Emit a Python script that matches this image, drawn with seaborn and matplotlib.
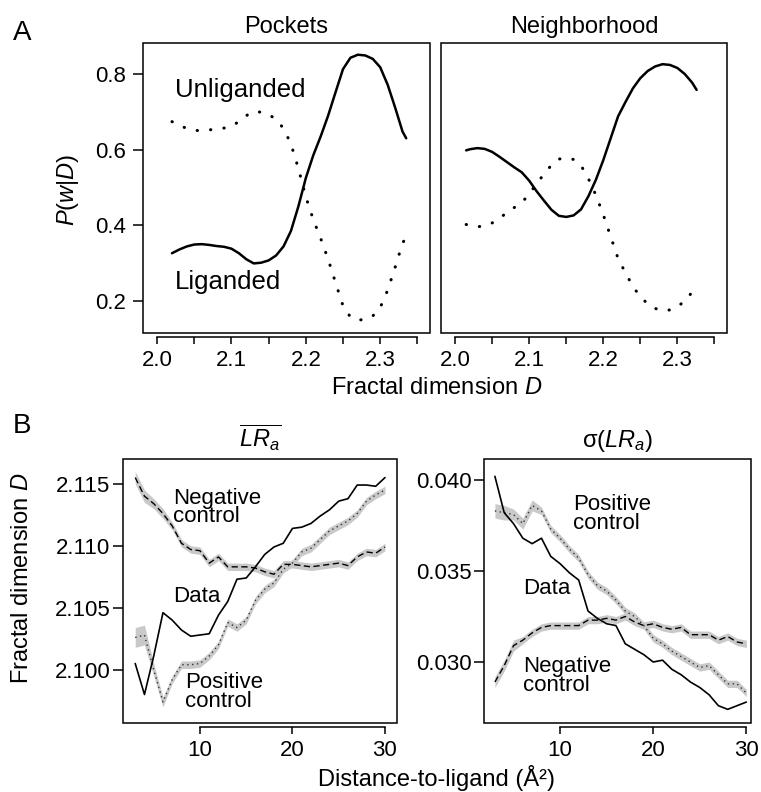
import numpy as np
import matplotlib
matplotlib.use("Agg")
import matplotlib.pyplot as plt
from matplotlib.patches import Rectangle
import seaborn as sns

sns.set_style("white")
plt.rcParams['font.family'] = ['Liberation Sans', 'DejaVu Sans']
plt.rcParams['mathtext.fontset'] = 'custom'
plt.rcParams['mathtext.rm'] = 'Liberation Sans'
plt.rcParams['mathtext.it'] = 'Liberation Sans:italic'
plt.rcParams['mathtext.bf'] = 'Liberation Sans:bold'
plt.rcParams['text.color'] = 'black'
plt.rcParams['axes.labelcolor'] = 'black'
plt.rcParams['xtick.color'] = 'black'
plt.rcParams['ytick.color'] = 'black'

# ----------------------------------------------------
# Panel A data: P(w|D) vs fractal dimension
# ----------------------------------------------------
pockets_d = [2.02, 2.03, 2.04, 2.05, 2.06, 2.07, 2.08, 2.09, 2.10, 2.11, 2.12,
             2.13, 2.14, 2.15, 2.16, 2.17, 2.18, 2.19, 2.20, 2.21, 2.22, 2.23,
             2.24, 2.25, 2.26, 2.27, 2.28, 2.29, 2.30, 2.31, 2.32, 2.33, 2.335]
pockets_lig = [0.326, 0.336, 0.344, 0.349, 0.350, 0.348, 0.345, 0.343, 0.338, 0.326, 0.310,
               0.299, 0.301, 0.307, 0.320, 0.344, 0.385, 0.450, 0.525, 0.585, 0.635, 0.690,
               0.752, 0.813, 0.843, 0.851, 0.849, 0.840, 0.818, 0.772, 0.712, 0.648, 0.630]
pockets_unlig = [0.674, 0.664, 0.656, 0.651, 0.650, 0.652, 0.655, 0.657, 0.662, 0.674, 0.690,
                 0.701, 0.699, 0.693, 0.680, 0.656, 0.615, 0.550, 0.475, 0.415, 0.365, 0.310,
                 0.248, 0.187, 0.157, 0.149, 0.151, 0.160, 0.182, 0.228, 0.288, 0.352, 0.370]

neigh_d = [2.015, 2.02, 2.03, 2.04, 2.05, 2.06, 2.07, 2.08, 2.09, 2.10, 2.11,
           2.12, 2.13, 2.14, 2.15, 2.16, 2.17, 2.18, 2.19, 2.20, 2.21, 2.22,
           2.23, 2.24, 2.25, 2.26, 2.27, 2.28, 2.29, 2.30, 2.31, 2.32, 2.326]
neigh_lig = [0.598, 0.601, 0.604, 0.602, 0.594, 0.581, 0.567, 0.553, 0.540, 0.518, 0.490,
             0.465, 0.441, 0.425, 0.422, 0.426, 0.442, 0.477, 0.520, 0.572, 0.630, 0.688,
             0.726, 0.762, 0.789, 0.808, 0.820, 0.826, 0.824, 0.816, 0.800, 0.777, 0.758]
neigh_unlig = [0.402, 0.399, 0.396, 0.398, 0.406, 0.419, 0.433, 0.447, 0.460, 0.482, 0.510,
               0.535, 0.559, 0.575, 0.578, 0.574, 0.558, 0.523, 0.480, 0.428, 0.370, 0.312,
               0.274, 0.238, 0.211, 0.192, 0.180, 0.174, 0.176, 0.184, 0.200, 0.223, 0.242]

a_xticks = [2.0, 2.05, 2.1, 2.15, 2.2, 2.25, 2.3, 2.35]
a_xticklabels = ['2.0', '', '2.1', '', '2.2', '', '2.3', '']
a_yticks = [0.2, 0.4, 0.6, 0.8]

# ----------------------------------------------------
# Panel B data: fractal dimension vs distance-to-ligand
# ----------------------------------------------------
dist = list(range(3, 31))

mean_data = [2.1005, 2.0980, 2.1011, 2.1046, 2.1040, 2.1032, 2.1027, 2.1028, 2.1029, 2.1044,
             2.1055, 2.1073, 2.1074, 2.1083, 2.1093, 2.1099, 2.1102, 2.1114, 2.1115, 2.1118,
             2.1124, 2.1129, 2.1136, 2.1138, 2.1149, 2.1149, 2.1148, 2.1155]
mean_neg = [2.1155, 2.1140, 2.1134, 2.1126, 2.1116, 2.1102, 2.1097, 2.1096, 2.1086, 2.1091,
            2.1083, 2.1083, 2.1083, 2.1082, 2.1079, 2.1077, 2.1085, 2.1085, 2.1084, 2.1083,
            2.1084, 2.1085, 2.1086, 2.1084, 2.1091, 2.1095, 2.1094, 2.1099]
mean_neg_band = [0.0005, 0.0005, 0.0004, 0.0004, 0.0003, 0.0003, 0.0003, 0.0003, 0.0003, 0.0003,
                 0.0003, 0.0003, 0.0003, 0.0003, 0.0003, 0.0003, 0.0003, 0.0003, 0.0003, 0.0003,
                 0.0003, 0.0003, 0.0003, 0.0003, 0.0003, 0.0003, 0.0003, 0.0003]
mean_pos = [2.1026, 2.1028, 2.1000, 2.0974, 2.0992, 2.1004, 2.1004, 2.1005, 2.1011, 2.1020,
            2.1038, 2.1034, 2.1040, 2.1056, 2.1065, 2.1070, 2.1081, 2.1086, 2.1095, 2.1098,
            2.1105, 2.1112, 2.1116, 2.1120, 2.1126, 2.1136, 2.1141, 2.1145]
mean_pos_band = [0.0008, 0.0008, 0.0005, 0.0004, 0.0003, 0.0003, 0.0003, 0.0003, 0.0003, 0.0003,
                 0.0003, 0.0003, 0.0003, 0.0003, 0.0003, 0.0003, 0.0003, 0.0003, 0.0003, 0.0003,
                 0.0003, 0.0003, 0.0003, 0.0003, 0.0003, 0.0003, 0.0003, 0.0003]

sd_data = [0.0402, 0.0382, 0.0376, 0.0368, 0.0365, 0.0368, 0.0358, 0.0354, 0.0349, 0.0345,
           0.0328, 0.0324, 0.0321, 0.0320, 0.0310, 0.0307, 0.0304, 0.0300, 0.0301, 0.0296,
           0.0293, 0.0289, 0.0286, 0.0282, 0.0276, 0.0274, 0.0276, 0.0278]
sd_pos = [0.0383, 0.0382, 0.0381, 0.0376, 0.0386, 0.0383, 0.0373, 0.0368, 0.0362, 0.0357,
          0.0348, 0.0342, 0.0339, 0.0334, 0.0328, 0.0325, 0.0320, 0.0313, 0.0310, 0.0306,
          0.0303, 0.0300, 0.0297, 0.0298, 0.0293, 0.0288, 0.0288, 0.0283]
sd_pos_band = [0.0004, 0.0004, 0.0003, 0.0003, 0.0003, 0.0002, 0.0002, 0.0002, 0.0002, 0.0002,
               0.0002, 0.0002, 0.0002, 0.0002, 0.0002, 0.0002, 0.0002, 0.0002, 0.0002, 0.0002,
               0.0002, 0.0002, 0.0002, 0.0002, 0.0002, 0.0002, 0.0002, 0.0002]
sd_neg = [0.0289, 0.0298, 0.0309, 0.0312, 0.0316, 0.0319, 0.0320, 0.0320, 0.0320, 0.0320,
          0.0323, 0.0323, 0.0324, 0.0323, 0.0325, 0.0322, 0.0320, 0.0321, 0.0319, 0.0318,
          0.0319, 0.0315, 0.0315, 0.0315, 0.0312, 0.0314, 0.0311, 0.0310]
sd_neg_band = [0.0003, 0.0003, 0.0003, 0.0002, 0.0002, 0.0002, 0.0002, 0.0002, 0.0002, 0.0002,
               0.0002, 0.0002, 0.0002, 0.0002, 0.0002, 0.0002, 0.0002, 0.0002, 0.0002, 0.0002,
               0.0002, 0.0002, 0.0002, 0.0002, 0.0002, 0.0002, 0.0002, 0.0002]

b_xticks = [10, 20, 30]
mean_yticks = [2.100, 2.105, 2.110, 2.115]
sd_yticks = [0.030, 0.035, 0.040]

# ----------------------------------------------------
# Figure layout (pixel boxes)
# ----------------------------------------------------
W, H = 761, 792
fig = plt.figure(figsize=(W / 100, H / 100), dpi=100)


def add_ax(x0, y0, x1, y1):
    return fig.add_axes([x0 / W, 1 - y1 / H, (x1 - x0) / W, (y1 - y0) / H])


def r_box(ax, xbounds, ylen, ypad, xpad, fs):
    for s in ['top', 'right', 'left']:
        ax.spines[s].set_visible(False)
    ax.add_patch(Rectangle((0, 0), 1, 1, transform=ax.transAxes, fill=False,
                           lw=1.1, ec='black', clip_on=False, zorder=5))
    ax.spines['bottom'].set_position(('outward', 3))
    ax.spines['bottom'].set_bounds(*xbounds)
    ax.spines['bottom'].set_linewidth(1.1)
    ax.spines['bottom'].set_color('black')
    ax.tick_params(axis='x', bottom=True, direction='out', length=5, width=1.1,
                   pad=xpad, labelsize=fs, colors='black')
    ax.tick_params(axis='y', left=True, direction='out', length=ylen, width=1.1,
                   pad=ypad, labelsize=fs, colors='black')
    ax.set_xlabel('')
    ax.set_ylabel('')


dot_a = dict(linestyle=(0, (0.1, 4.3)), dash_capstyle='round', lw=2.2, color='black')

# ---- Panel A: Pockets ----
ax1 = add_ax(143, 43, 430, 333)
sns.lineplot(x=pockets_d, y=pockets_lig, ax=ax1, color='black', lw=1.8)
sns.lineplot(x=pockets_d, y=pockets_unlig, ax=ax1, **dot_a)
ax1.set_xlim(1.981, 2.367)
ax1.set_ylim(0.115, 0.882)
ax1.set_xticks(a_xticks, a_xticklabels)
ax1.set_yticks(a_yticks, ['0.2', '0.4', '0.6', '0.8'])
r_box(ax1, (2.0, 2.35), 7, 5, 4, 16)
ax1.text(2.024, 0.758, 'Unliganded', fontsize=18.5, va='center', ha='left')
ax1.text(2.024, 0.250, 'Liganded', fontsize=18.5, va='center', ha='left')
ax1.text(0.5, 1 + 10 / 290, 'Pockets', transform=ax1.transAxes, ha='center',
         va='baseline', fontsize=17)

# ---- Panel A: Neighborhood ----
ax2 = add_ax(441, 43, 727, 333)
sns.lineplot(x=neigh_d, y=neigh_lig, ax=ax2, color='black', lw=1.8)
sns.lineplot(x=neigh_d, y=neigh_unlig, ax=ax2, **dot_a)
ax2.set_xlim(1.981, 2.367)
ax2.set_ylim(0.115, 0.882)
ax2.set_xticks(a_xticks, a_xticklabels)
ax2.set_yticks([])
r_box(ax2, (2.0, 2.35), 7, 5, 4, 16)
ax2.text(0.5, 1 + 10 / 290, 'Neighborhood', transform=ax2.transAxes, ha='center',
         va='baseline', fontsize=17)

fig.text(68 / W, 1 - 190 / H, r'$P(w|D)$', rotation=90, ha='center', va='center', fontsize=17)
fig.text(437 / W, 1 - 394 / H, r'Fractal dimension $D$', ha='center', va='baseline', fontsize=17)
fig.text(13 / W, 1 - 40 / H, 'A', ha='left', va='baseline', fontsize=20)

# ---- Panel B: mean LR_a ----
band_col = '#c9c9c9'
ax3 = add_ax(123, 459, 397, 723)
lo = [m - b for m, b in zip(mean_neg, mean_neg_band)]
hi = [m + b for m, b in zip(mean_neg, mean_neg_band)]
ax3.fill_between(dist, lo, hi, color=band_col, lw=0)
lo = [m - b for m, b in zip(mean_pos, mean_pos_band)]
hi = [m + b for m, b in zip(mean_pos, mean_pos_band)]
ax3.fill_between(dist, lo, hi, color=band_col, lw=0)
sns.lineplot(x=dist, y=mean_neg, ax=ax3, color='black', lw=1.0, linestyle=(0, (4.5, 2.5)))
sns.lineplot(x=dist, y=mean_pos, ax=ax3, color='#333333', lw=1.0, linestyle=(0, (1, 2.5)))
sns.lineplot(x=dist, y=mean_data, ax=ax3, color='black', lw=1.2)
ax3.set_xlim(1.68, 31.3)
ax3.set_ylim(2.0957, 2.1170)
ax3.set_xticks(b_xticks, [str(t) for t in b_xticks])
ax3.set_yticks(mean_yticks, ['%.3f' % t for t in mean_yticks])
r_box(ax3, (10, 30), 7, 2, 4, 16)
ax3.text(7.1, 2.1131, 'Negative\ncontrol', fontsize=16, va='center', ha='left', linespacing=0.85)
ax3.text(7.1, 2.1059, 'Data', fontsize=16, va='center', ha='left')
ax3.text(8.4, 2.0982, 'Positive\ncontrol', fontsize=16, va='center', ha='left', linespacing=0.85)
ax3.text(0.5, 1 + 12 / 264, r'$\overline{LR_a}$', transform=ax3.transAxes, ha='center',
         va='baseline', fontsize=17)

# ---- Panel B: sd LR_a ----
ax4 = add_ax(484, 459, 751, 723)
lo = [m - b for m, b in zip(sd_pos, sd_pos_band)]
hi = [m + b for m, b in zip(sd_pos, sd_pos_band)]
ax4.fill_between(dist, lo, hi, color=band_col, lw=0)
lo = [m - b for m, b in zip(sd_neg, sd_neg_band)]
hi = [m + b for m, b in zip(sd_neg, sd_neg_band)]
ax4.fill_between(dist, lo, hi, color=band_col, lw=0)
sns.lineplot(x=dist, y=sd_neg, ax=ax4, color='black', lw=1.0, linestyle=(0, (4.5, 2.5)))
sns.lineplot(x=dist, y=sd_pos, ax=ax4, color='#333333', lw=1.0, linestyle=(0, (1, 2.5)))
sns.lineplot(x=dist, y=sd_data, ax=ax4, color='black', lw=1.2)
ax4.set_xlim(1.83, 30.5)
ax4.set_ylim(0.02665, 0.04115)
ax4.set_xticks(b_xticks, [str(t) for t in b_xticks])
ax4.set_yticks(sd_yticks, ['%.3f' % t for t in sd_yticks])
r_box(ax4, (10, 30), 7, 2, 4, 16)
ax4.text(11.4, 0.03813, 'Positive\ncontrol', fontsize=16, va='center', ha='left', linespacing=0.85)
ax4.text(6.0, 0.03401, 'Data', fontsize=16, va='center', ha='left')
ax4.text(6.0, 0.02923, 'Negative\ncontrol', fontsize=16, va='center', ha='left', linespacing=0.85)
ax4.text(0.5, 1 + 12 / 264, r'σ($LR_a$)', transform=ax4.transAxes, ha='center',
         va='baseline', fontsize=17)

fig.text(22 / W, 1 - 578 / H, r'Fractal dimension $D$', rotation=90, ha='center', va='center',
         fontsize=17)
fig.text(437 / W, 1 - 786 / H, 'Distance-to-ligand (Å²)', ha='center', va='baseline', fontsize=17)
fig.text(13 / W, 1 - 433 / H, 'B', ha='left', va='baseline', fontsize=20)

fig.savefig('out.png', dpi=100)
